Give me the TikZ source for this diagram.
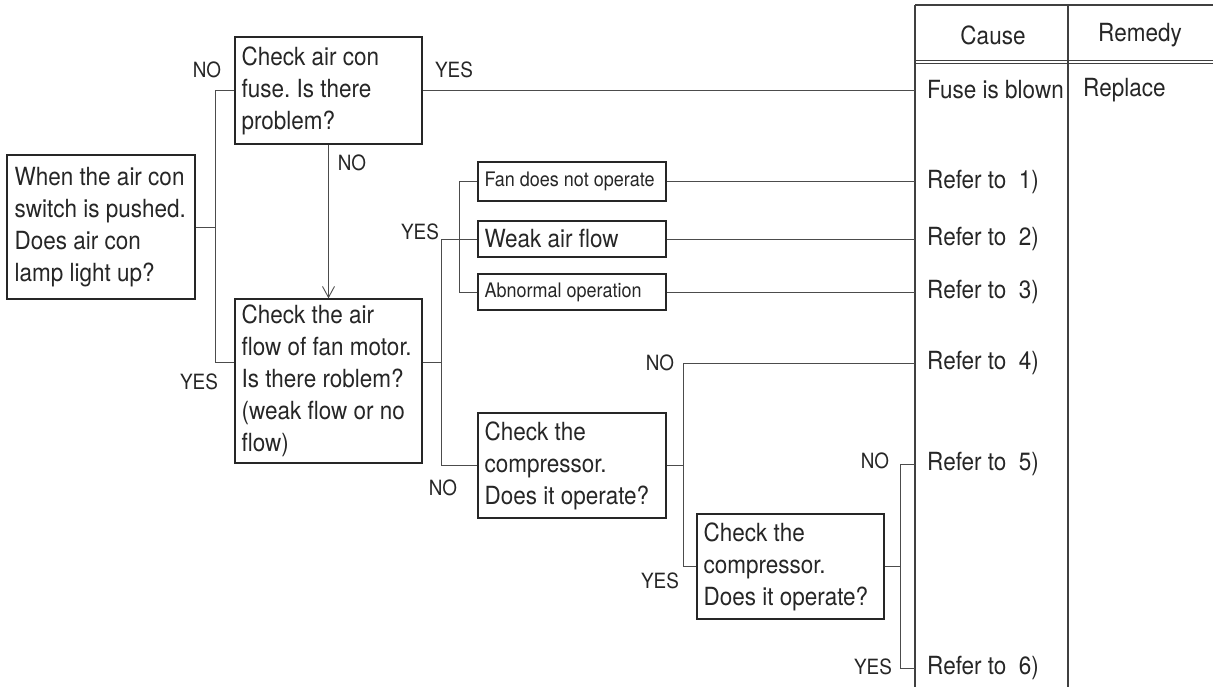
\documentclass[tikz,border=0pt]{standalone}
\usepackage{fontspec}
\setmainfont{TeX Gyre Heros}[FakeStretch=0.9]
\usetikzlibrary{arrows.meta,positioning}
\newcommand{\bigtxt}{\fontsize{25}{32}\selectfont\frenchspacing}
\newcommand{\smalltxt}{\fontsize{20}{24}\selectfont\frenchspacing}
\newcommand{\lbltxt}{\fontsize{21}{24}\selectfont}

\begin{document}
\begin{tikzpicture}[
    x=1pt, y=-1pt,
    box/.style={draw=black!85, line width=1.3pt, inner sep=0pt},
    boxtxt/.style={align=left, inner sep=0pt, font=\bigtxt, text=black!85},
    smalltxt/.style={boxtxt, font=\smalltxt},
    lbl/.style={font=\lbltxt, text=black!85, inner sep=0pt},
    cell/.style={font=\bigtxt, text=black!85, anchor=west, inner ysep=0pt},
    link/.style={draw=black!70, line width=0.9pt},
    arr/.style={link, -{Straight Barb[length=11pt, width=12pt]}},
    tab/.style={draw=black!75, line width=1.5pt},
  ]
    \useasboundingbox (0,0) rectangle (1213,687);

    % table frame
    \coordinate (ttl) at (915,5);
    \coordinate (tmid) at (1068,5);
    \draw[tab] (ttl) -- (1213,5);
    \draw[tab] (ttl) -- (915,687);
    \draw[tab] (tmid) -- (1068,687);
    \draw[draw=black!75, line width=1pt] (915,61) -- (1213,61);
    \draw[draw=black!75, line width=1pt] (915,64) -- (1213,64);
    \node[font=\bigtxt, text=black!85] (hcause) at (993,35) {Cause};
    \node[font=\bigtxt, text=black!85] (hrem) at (1140,35) {Remedy};

    % causes / remedies
    \node[cell, inner xsep=12pt] (blown) at (915,90) {Fuse is blown};
    \node[cell, inner xsep=15pt] (repl) at (1068,90) {Replace};
    \node[cell, inner xsep=12pt] (ref1) at (915,182) {Refer to~~1)};
    \node[cell, inner xsep=12pt] (ref2) at (915,239) {Refer to~~2)};
    \node[cell, inner xsep=12pt] (ref3) at (915,292) {Refer to~~3)};
    \node[cell, inner xsep=12pt] (ref4) at (915,363) {Refer to~~4)};
    \node[cell, inner xsep=12pt] (ref5) at (915,464) {Refer to~~5)};
    \node[cell, inner xsep=12pt] (ref6) at (915,668) {Refer to~~6)};

    % check boxes
    \node[box, minimum width=188pt, minimum height=144pt] (start) at (101,227) {};
    \node[boxtxt, right=8pt of start.west]
      {When the air con\\switch is pushed.\\Does air con\\lamp light up?};
    \node[box, minimum width=187pt, minimum height=107pt] (fuse) at (328.5,90.5) {};
    \node[boxtxt, right=7pt of fuse.west] {Check air con\\fuse. Is there\\problem?};
    \node[box, minimum width=187pt, minimum height=164pt] (air) at (328.5,381) {};
    \node[boxtxt, right=7pt of air.west]
      {Check the air\\flow of fan motor.\\Is there roblem?\\(weak flow or no\\flow)};

    \node[box, minimum width=188pt, minimum height=39pt] (fan) at (572,181.5) {};
    \node[smalltxt, right=7pt of fan.west] {Fan does not operate};
    \node[box, minimum width=188pt, minimum height=36pt] (weak) at (572,239) {};
    \node[boxtxt, right=7pt of weak.west] {Weak air flow};
    \node[box, minimum width=188pt, minimum height=36pt] (abn) at (572,292) {};
    \node[smalltxt, right=7pt of abn.west] {Abnormal operation};

    \node[box, minimum width=188pt, minimum height=105pt] (cmp1) at (572,465.5) {};
    \node[boxtxt, right=7pt of cmp1.west] {Check the\\compressor.\\Does it operate?};
    \node[box, minimum width=187pt, minimum height=105pt] (cmp2) at (790.5,566.5) {};
    \node[boxtxt, right=7pt of cmp2.west] {Check the\\compressor.\\Does it operate?};

    % connectors
    \draw[link] (start.east) -- ++(20,0) |- (fuse.west);
    \draw[link] (start.east) -- ++(20,0) |- ([yshift=19pt]air.west);
    \draw[link] (fuse.east) -- (fuse.east -| blown.west);
    \draw[arr] (fuse.south) -- (air.north);
    \draw[link] ([yshift=19pt]air.east) -- ++(19,0) |- (weak.west);
    \draw[link] ([yshift=19pt]air.east) -- ++(19,0) |- (cmp1.west);
    \coordinate (fork) at ([xshift=-18pt]weak.west);
    \draw[link] (fan.west) -| (fork) |- (abn.west);
    \draw[link] (fan.east) -- (fan.east -| ref1.west);
    \draw[link] (weak.east) -- (weak.east -| ref2.west);
    \draw[link] (abn.east) -- (abn.east -| ref3.west);
    \draw[link] (cmp1.east) -- ++(17,0) |- (ref4.west);
    \draw[link] (cmp1.east) -- ++(17,0) |- (cmp2.west);
    \draw[link] (cmp2.east) -- ++(16,0) |- (ref5.west);
    \draw[link] (cmp2.east) -- ++(16,0) |- (ref6.west);

    % yes / no labels
    \node[lbl] (no1) at (207,70) {NO};
    \node[lbl] (yes1) at (199,382) {YES};
    \node[lbl] (yes2) at (454,70) {YES};
    \node[lbl] (no2) at (352,163) {NO};
    \node[lbl] (yes3) at (420,232) {YES};
    \node[lbl] (no3) at (443,488) {NO};
    \node[lbl] (no4) at (660,363) {NO};
    \node[lbl] (yes4) at (660,581) {YES};
    \node[lbl] (no5) at (875,461) {NO};
    \node[lbl] (yes5) at (873,667) {YES};
  \end{tikzpicture}
\end{document}
